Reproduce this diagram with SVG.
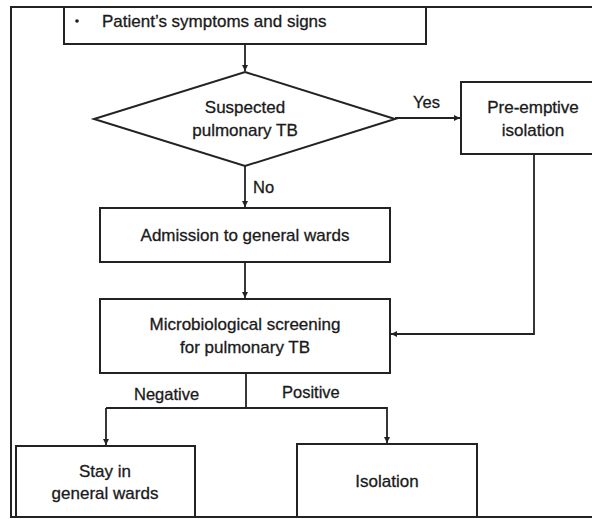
<svg xmlns="http://www.w3.org/2000/svg" width="592" height="519" viewBox="0 0 592 519">
<defs>
<marker id="ah" viewBox="0 0 10 10" refX="10" refY="5" markerWidth="6" markerHeight="6" markerUnits="userSpaceOnUse" orient="auto">
<path d="M0,0 L10,5 L0,10 z" fill="#222"/>
</marker>
<style>
.box{fill:#fff;stroke:#222;stroke-width:2}
.ln{fill:none;stroke:#222;stroke-width:1.8}
.t{font-family:"Liberation Sans",Arial,sans-serif;font-size:17px;fill:#1a1a1a;stroke:#1a1a1a;stroke-width:0.3;text-anchor:middle}
.l{font-family:"Liberation Sans",Arial,sans-serif;font-size:16.5px;fill:#1a1a1a;stroke:#1a1a1a;stroke-width:0.3}
</style>
</defs>
<rect width="592" height="519" fill="#fff"/>
<rect x="11" y="7" width="600" height="510" fill="none" stroke="#222" stroke-width="2"/>
<g id="connectors">
<path class="ln" d="M245,44 V71" marker-end="url(#ah)"/>
<path class="ln" d="M395,118 H460" marker-end="url(#ah)"/>
<path class="ln" d="M245,166 V207" marker-end="url(#ah)"/>
<path class="ln" d="M245,262 V298" marker-end="url(#ah)"/>
<path class="ln" d="M534,154 V334 H391" marker-end="url(#ah)"/>
<path class="ln" d="M246,373 V408"/>
<path class="ln" d="M106,408 H387 V443" marker-end="url(#ah)"/>
<path class="ln" d="M106,408 V445" marker-end="url(#ah)"/>
<text class="l" x="413" y="108">Yes</text>
<text class="l" x="253" y="193">No</text>
<text class="l" x="134" y="400">Negative</text>
<text class="l" x="282" y="398">Positive</text>
</g>
<g id="symptoms">
<rect class="box" x="64" y="7" width="362" height="37"/>
<circle cx="77" cy="21" r="1.8" fill="#1a1a1a"/>
<text class="l" x="102" y="27" style="font-size:17px">Patient’s symptoms and signs</text>
</g>
<g id="suspected">
<polygon class="box" points="245,72 395,119 245,166 94,119"/>
<text class="t" x="245" y="113">Suspected</text>
<text class="t" x="245" y="136">pulmonary TB</text>
</g>
<g id="preemptive">
<rect class="box" x="461" y="82" width="140" height="72"/>
<text class="t" x="533" y="113">Pre-emptive</text>
<text class="t" x="533" y="136">isolation</text>
</g>
<g id="admission">
<rect class="box" x="100" y="208" width="290" height="54"/>
<text class="t" x="245" y="241">Admission to general wards</text>
</g>
<g id="screening">
<rect class="box" x="100" y="299" width="290" height="74"/>
<text class="t" x="245" y="330">Microbiological screening</text>
<text class="t" x="245" y="353">for pulmonary TB</text>
</g>
<g id="stay">
<rect class="box" x="16" y="446" width="179" height="71"/>
<text class="t" x="105" y="477">Stay in</text>
<text class="t" x="105" y="499">general wards</text>
</g>
<g id="isolation">
<rect class="box" x="297" y="444" width="180" height="73"/>
<text class="t" x="387" y="487">Isolation</text>
</g>
</svg>
